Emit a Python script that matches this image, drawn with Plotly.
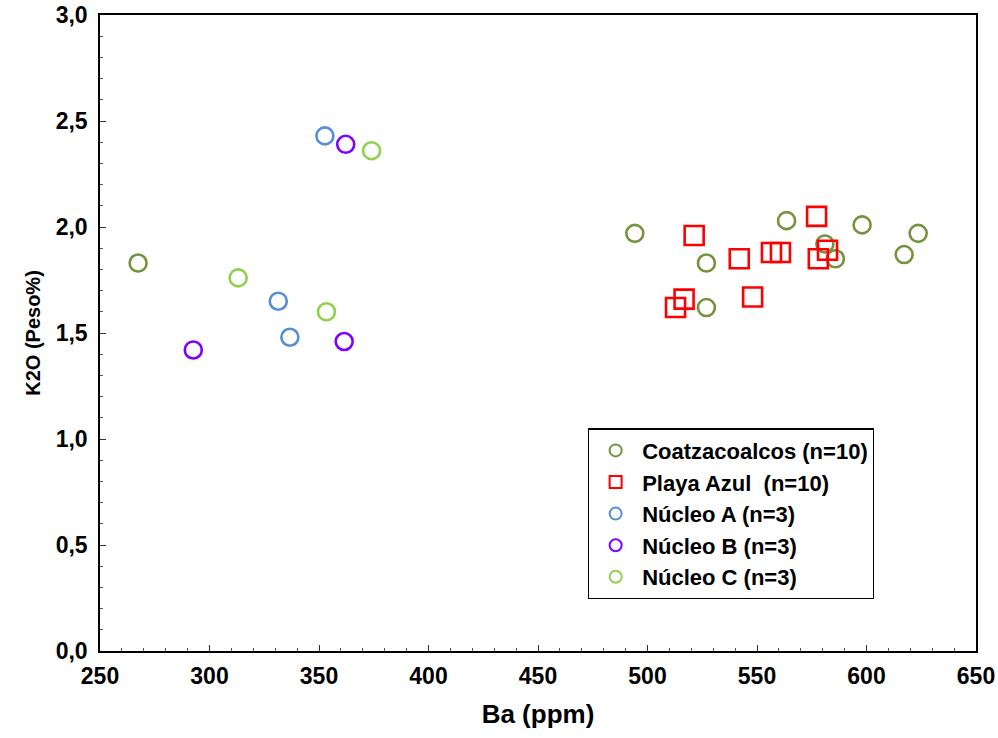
import plotly.graph_objects as go

# Ba (ppm) vs K2O (wt%) by sample group
coatza_ba = [267.4, 494.2, 526.9, 526.9, 563.5, 581.0, 585.8, 598.0, 623.6, 617.2]
coatza_k2o = [1.83, 1.97, 1.83, 1.62, 2.03, 1.92, 1.85, 2.01, 1.97, 1.87]

playa_ba = [521.3, 541.9, 516.7, 512.8, 548.0, 556.6, 560.7, 577.2, 582.2, 578.0]
playa_k2o = [1.96, 1.85, 1.66, 1.62, 1.67, 1.88, 1.88, 2.05, 1.89, 1.85]

nucleo_a_ba = [352.7, 331.4, 336.7]
nucleo_a_k2o = [2.43, 1.65, 1.48]

nucleo_b_ba = [362.2, 292.6, 361.5]
nucleo_b_k2o = [2.39, 1.42, 1.46]

nucleo_c_ba = [374.0, 313.1, 353.4]
nucleo_c_k2o = [2.36, 1.76, 1.60]

series = [
    ("Coatzacoalcos (n=10)", coatza_ba, coatza_k2o, "circle-open", "#76923C"),
    ("Playa Azul  (n=10)", playa_ba, playa_k2o, "square-open", "#FF0000"),
    ("Núcleo A (n=3)", nucleo_a_ba, nucleo_a_k2o, "circle-open", "#558ED5"),
    ("Núcleo B (n=3)", nucleo_b_ba, nucleo_b_k2o, "circle-open", "#7F00FF"),
    ("Núcleo C (n=3)", nucleo_c_ba, nucleo_c_k2o, "circle-open", "#92D050"),
]

FONT = "Liberation Sans, Arial, sans-serif"

fig = go.Figure()
for name, xs, ys, sym, col in series:
    size = 19 if sym == "square-open" else 17
    fig.add_trace(go.Scatter(
        x=xs, y=ys, mode="markers", name=name,
        marker=dict(symbol=sym, size=size, color=col,
                    line=dict(color=col, width=2.6)),
    ))

axis_common = dict(
    showgrid=False, zeroline=False, automargin=False,
    showline=True, linecolor="black", linewidth=1.5, mirror=True,
    ticks="inside", ticklen=6, tickwidth=1.2, tickcolor="#333",
    tickfont=dict(family=FONT, size=23, color="black", weight="bold"),
)

fig.update_layout(
    width=998, height=738,
    margin=dict(l=100, r=22, t=15, b=87),
    plot_bgcolor="white", paper_bgcolor="white",
    separators=",.",
    font=dict(family=FONT, color="black"),
    xaxis=dict(
        range=[250, 650], tick0=250, dtick=50,
        minor=dict(ticks="inside", dtick=10, ticklen=3, tickcolor="#555"),
        title=dict(text="Ba (ppm)", font=dict(family=FONT, size=26, weight="bold"),
                   standoff=16),
        ticklabelstandoff=4,
        **axis_common,
    ),
    yaxis=dict(
        range=[0, 3], tick0=0, dtick=0.5, tickformat=".1f",
        minor=dict(ticks="inside", dtick=0.1, ticklen=3, tickcolor="#555"),
        title=dict(text="K2O (Peso%)", font=dict(family=FONT, size=20, weight="bold"),
                   standoff=10),
        ticklabelstandoff=6,
        **axis_common,
    ),
    legend=dict(
        x=0.557, y=0.35, xanchor="left", yanchor="top",
        bgcolor="white", bordercolor="black", borderwidth=1.2,
        font=dict(family=FONT, size=22, color="black", weight="bold"),
        itemsizing="constant", itemwidth=43, tracegroupgap=0,
        entrywidth=275, entrywidthmode="pixels",
    ),
    showlegend=True,
)

fig.write_html("out.html")
